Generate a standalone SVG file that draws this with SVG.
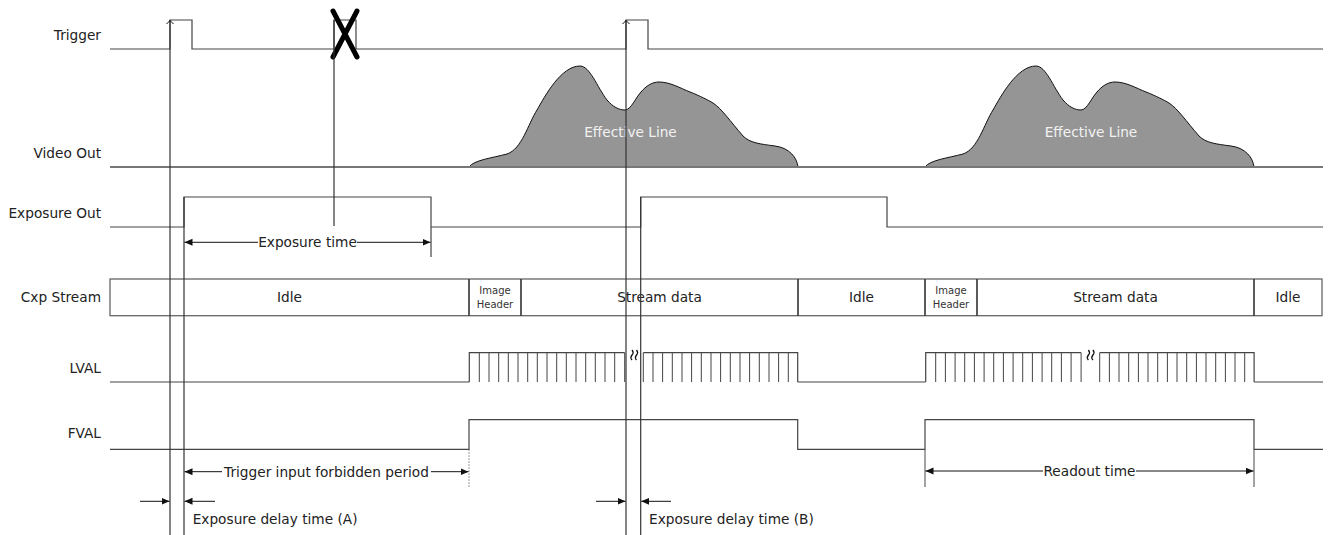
<svg xmlns="http://www.w3.org/2000/svg" width="1333" height="535" viewBox="0 0 1333 535">
<style>
text{font-family:"DejaVu Sans","Liberation Sans",sans-serif;font-size:13.7px;fill:#222}
.lbl{text-anchor:end}
.mid{text-anchor:middle}
.sm{font-size:10px;fill:#333}
.eff{fill:#f2f2f2;text-anchor:middle}
.sig{fill:none;stroke:#444;stroke-width:1.2}
.vl{fill:none;stroke:#333;stroke-width:1.2}
.dim{fill:none;stroke:#111;stroke-width:1}
.box{fill:#fff;stroke:#666;stroke-width:1.3}
.div{stroke:#333;stroke-width:1.6}
.hump{fill:#959595;stroke:#111;stroke-width:1}
</style>
<defs>
<marker id="ah" markerUnits="userSpaceOnUse" markerWidth="9" markerHeight="8" refX="8" refY="3.5" orient="auto">
<path d="M0,0 L8,3.5 L0,7 z" fill="#111"/>
</marker>
<path id="humpShape" class="hump" d="M469,167 C474,160 492,158 507,154 C522,149 528,124 537,110 C545,96 561,66 580,66 C590,66 597,87 607,100 C613,107 619,110 625,110 C631,110 636,97 641,92 C646,86 652,82 659,82 C670,82 680,88 690,92 C700,96 708,100 713,103 C722,109 730,121 743,136 C750,143 760,144 775,146 C790,148 797,158 798,167 Z"/>
<g id="comb">
<path class="sig" d="M469.3,382 V352.7 H624.7 M643.3,352.7 H797.7 V382"/>
<path fill="none" stroke="#444" stroke-width="1" d="M479.3,352.7V382M489,352.7V382M498.7,352.7V382M508.3,352.7V382M518,352.7V382M527.7,352.7V382M537.3,352.7V382M547,352.7V382M556.7,352.7V382M566.3,352.7V382M576,352.7V382M585.7,352.7V382M595.3,352.7V382M605,352.7V382M614.7,352.7V382M624.7,352.7V382M643.3,352.7V382M653,352.7V382M662.6,352.7V382M672.3,352.7V382M682,352.7V382M691.6,352.7V382M701.3,352.7V382M711,352.7V382M720.6,352.7V382M730.3,352.7V382M740,352.7V382M749.6,352.7V382M759.3,352.7V382M769,352.7V382M778.6,352.7V382M788.3,352.7V382"/>
<path fill="none" stroke="#111" stroke-width="1.3" d="M632,350 q2.2,2.5 0,5 q-2.2,2.5 0,5 M636.5,350 q2.2,2.5 0,5 q-2.2,2.5 0,5"/>
</g>
</defs>

<g id="labels">
<text class="lbl" x="101" y="40">Trigger</text>
<text class="lbl" x="101" y="158">Video Out</text>
<text class="lbl" x="101" y="218">Exposure Out</text>
<text class="lbl" x="101" y="302">Cxp Stream</text>
<text class="lbl" x="101" y="373">LVAL</text>
<text class="lbl" x="101" y="438">FVAL</text>
</g>

<g id="video-out">
<use href="#humpShape"/>
<use href="#humpShape" transform="translate(456,0)"/>
<line x1="110" y1="167" x2="1323" y2="167" stroke="#777" stroke-width="1.8"/>
<text class="eff" x="630.5" y="137">Effective Line</text>
<text class="eff" x="1091" y="137">Effective Line</text>
</g>

<g id="trigger">
<path class="sig" d="M110,49 H170 V20 H192 V49 H334 V20 H356 V49 H626 V20 H648 V49 H1323"/>
<path d="M333,11 L357,57 M357,11 L333,57" stroke="#000" stroke-width="5" stroke-linecap="round"/>
</g>

<g id="exposure-out">
<path class="sig" d="M110,227 H184 V197 H431 V257 M431,227 H640.7 V197 H887 V227 H1323"/>
</g>

<g id="cxp-stream">
<rect class="box" x="110" y="279" width="1212" height="36.7"/>
<line class="div" x1="469" y1="279" x2="469" y2="315.7"/>
<line class="div" x1="521" y1="279" x2="521" y2="315.7"/>
<line class="div" x1="798" y1="279" x2="798" y2="315.7"/>
<line class="div" x1="925" y1="279" x2="925" y2="315.7"/>
<line class="div" x1="977" y1="279" x2="977" y2="315.7"/>
<line class="div" x1="1254" y1="279" x2="1254" y2="315.7"/>
<text class="mid" x="289.5" y="302">Idle</text>
<text class="mid sm" x="495" y="294">Image</text>
<text class="mid sm" x="495" y="308">Header</text>
<text class="mid" x="659.5" y="302">Stream data</text>
<text class="mid" x="861.5" y="302">Idle</text>
<text class="mid sm" x="951" y="294">Image</text>
<text class="mid sm" x="951" y="308">Header</text>
<text class="mid" x="1115.5" y="302">Stream data</text>
<text class="mid" x="1288" y="302">Idle</text>
</g>

<g id="lval">
<path class="sig" d="M110,382 H469.3 M797.7,382 H925.7 M1254.1,382 H1323"/>
<use href="#comb"/>
<use href="#comb" transform="translate(456.4,0)"/>
</g>

<g id="fval">
<path class="sig" d="M110,449.3 H469 V419.7 H797.7 V449.3 H925 V419.7 H1254 V449.3 H1323"/>
<line x1="469" y1="449.3" x2="469" y2="487" stroke="#777" stroke-width="1" stroke-dasharray="1.5,1.5"/>
<line x1="925" y1="449.3" x2="925" y2="487" stroke="#666" stroke-width="1.2"/>
<line x1="1254" y1="449.3" x2="1254" y2="487" stroke="#666" stroke-width="1.2"/>
</g>

<g id="connectors">
<line class="vl" x1="170" y1="20" x2="170" y2="535"/>
<path class="dim" d="M166.5,24 L170,20.5 L173.5,24"/>
<line class="vl" x1="334" y1="20" x2="334" y2="226"/>
<line class="vl" x1="184" y1="197" x2="184" y2="535"/>
<line class="vl" x1="626" y1="20" x2="626" y2="535"/>
<path class="dim" d="M622.5,24 L626,20.5 L629.5,24"/>
<line class="vl" x1="640.7" y1="197" x2="640.7" y2="535"/>

<line class="dim" x1="258" y1="242.3" x2="184.5" y2="242.3" marker-end="url(#ah)"/>
<line class="dim" x1="357" y1="242.3" x2="430.5" y2="242.3" marker-end="url(#ah)"/>
<text class="mid" x="307.5" y="247.3">Exposure time</text>

<line class="dim" x1="222" y1="471.7" x2="184.5" y2="471.7" marker-end="url(#ah)"/>
<line class="dim" x1="431" y1="471.7" x2="468.5" y2="471.7" marker-end="url(#ah)"/>
<text class="mid" x="326.5" y="476.7">Trigger input forbidden period</text>

<line class="dim" x1="1043" y1="471" x2="925.5" y2="471" marker-end="url(#ah)"/>
<line class="dim" x1="1136" y1="471" x2="1253.5" y2="471" marker-end="url(#ah)"/>
<text class="mid" x="1089.5" y="476">Readout time</text>

<line class="dim" x1="140" y1="501.3" x2="169.5" y2="501.3" marker-end="url(#ah)"/>
<line class="dim" x1="215" y1="501.3" x2="184.5" y2="501.3" marker-end="url(#ah)"/>
<text x="192.7" y="524.3">Exposure delay time (A)</text>

<line class="dim" x1="596" y1="501.3" x2="625.5" y2="501.3" marker-end="url(#ah)"/>
<line class="dim" x1="671" y1="501.3" x2="641.2" y2="501.3" marker-end="url(#ah)"/>
<text x="649" y="524.3">Exposure delay time (B)</text>
</g>
</svg>
